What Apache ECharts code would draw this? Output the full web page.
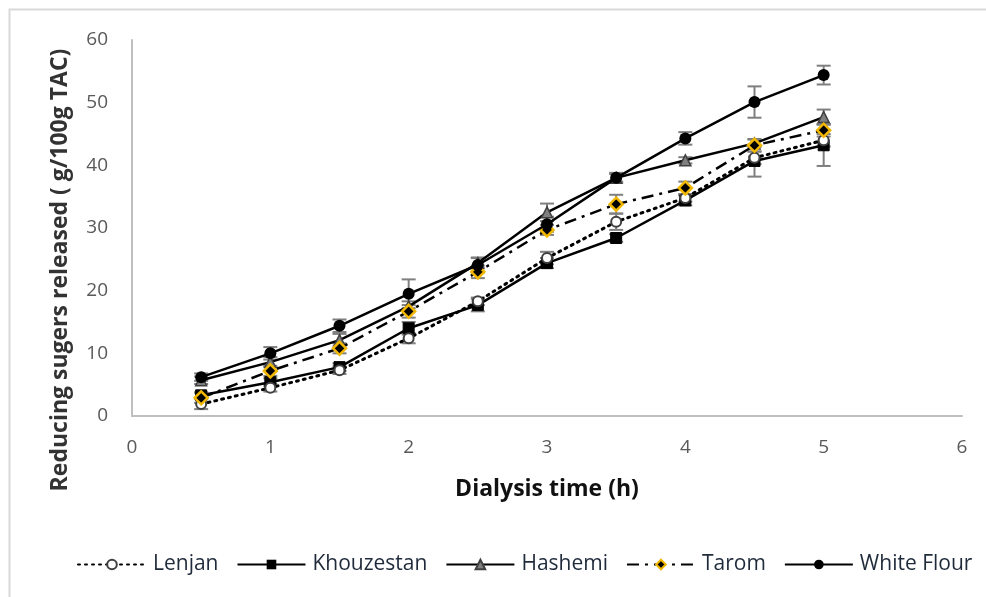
<!DOCTYPE html>
<html>
<head>
<meta charset="utf-8">
<script src="https://cdn.jsdelivr.net/npm/echarts@6/dist/echarts.min.js"></script>
<style>
  html, body { margin: 0; padding: 0; background: #fff; }
  #chart { width: 986px; height: 597px; }
</style>
</head>
<body>
<div id="chart"></div>
<script>
// dialysis time (h)
var times = [0.5, 1, 1.5, 2, 2.5, 3, 3.5, 4, 4.5, 5];

// reducing sugars released (g/100g TAC)
var lenjan     = [1.9, 4.5, 7.3, 12.4, 18.3, 25.2, 31.0, 34.8, 41.2, 44.0];
var khouzestan = [3.3, 5.4, 7.8, 14.0, 17.7, 24.4, 28.4, 34.4, 40.7, 43.2];
var hashemi    = [5.7, 8.6, 12.1, 17.5, 24.4, 32.5, 38.0, 40.8, 43.5, 47.7];
var tarom      = [2.9, 7.2, 10.8, 16.7, 23.0, 29.7, 33.8, 36.4, 43.2, 45.6];
var whiteFlour = [6.2, 10.0, 14.4, 19.5, 24.1, 30.6, 38.0, 44.3, 50.1, 54.4];

// error (±)
var lenjanErr     = [0.8, 0.6, 0.6, 0.8, 0.6, 1.0, 1.3, 0.6, 1.0, 1.0];
var khouzestanErr = [0.5, 0.6, 0.6, 1.0, 1.0, 0.8, 0.6, 0.8, 2.5, 3.3];
var hashemiErr    = [0.6, 0.8, 1.0, 0.8, 0.8, 1.4, 0.6, 0.5, 0.6, 1.2];
var taromErr      = [0.8, 0.8, 0.8, 1.0, 1.0, 0.8, 1.5, 1.0, 1.0, 1.0];
var whiteFlourErr = [0.6, 1.0, 1.0, 2.3, 1.2, 1.2, 0.8, 1.0, 2.5, 1.5];

var font = '"Open Sans", sans-serif';

function pts(vals) {
    return times.map(function (t, i) { return [t, vals[i]]; });
}
function errs(vals, e) {
    return times.map(function (t, i) { return [t, vals[i] - e[i], vals[i] + e[i]]; });
}
function errSeries(name, vals, e) {
    return {
        type: 'custom',
        name: name + ' err',
        z: 1,
        silent: true,
        data: errs(vals, e),
        renderItem: function (params, api) {
            var lo = api.coord([api.value(0), api.value(1)]);
            var hi = api.coord([api.value(0), api.value(2)]);
            var w = 7;
            var st = { stroke: '#7f7f7f', lineWidth: 2 };
            return {
                type: 'group',
                children: [
                    { type: 'line', shape: { x1: lo[0], y1: lo[1], x2: hi[0], y2: hi[1] }, style: st },
                    { type: 'line', shape: { x1: lo[0] - w, y1: lo[1], x2: lo[0] + w, y2: lo[1] }, style: st },
                    { type: 'line', shape: { x1: hi[0] - w, y1: hi[1], x2: hi[0] + w, y2: hi[1] }, style: st }
                ]
            };
        }
    };
}

var chart = echarts.init(document.getElementById('chart'));
chart.setOption({
    animation: false,
    backgroundColor: '#fff',
    graphic: [{
        type: 'rect',
        shape: { x: 9.5, y: 9.5, width: 1000, height: 620 },
        style: { fill: 'none', stroke: '#d9d9d9', lineWidth: 2 },
        silent: true
    }],
    grid: { left: 132, right: 24, top: 40, bottom: 181 },
    legend: {
        top: 549,
        left: 72,
        itemWidth: 68,
        itemHeight: 12,
        itemGap: 18,
        textStyle: { fontFamily: font, fontSize: 21, color: '#1f2a3a', padding: [0, 0, 0, 2] },
        data: ['Lenjan', 'Khouzestan', 'Hashemi', 'Tarom', 'White Flour']
    },
    xAxis: {
        type: 'value',
        min: 0, max: 6, interval: 1,
        name: 'Dialysis time (h)',
        nameLocation: 'middle',
        nameGap: 62,
        nameTextStyle: { fontFamily: font, fontSize: 23, fontWeight: 'bold', color: '#111' },
        axisLine: { show: true, lineStyle: { color: '#bfbfbf', width: 2 } },
        axisTick: { show: false },
        splitLine: { show: false },
        axisLabel: { fontFamily: font, fontSize: 19, color: '#595959', margin: 22 }
    },
    yAxis: {
        type: 'value',
        min: 0, max: 60, interval: 10,
        name: 'Reducing sugers released ( g/100g TAC)',
        nameLocation: 'middle',
        nameGap: 60,
        nameTextStyle: { fontFamily: font, fontSize: 23, fontWeight: 'bold', color: '#333', padding: [0, 84, 0, 0] },
        axisLine: { show: true, lineStyle: { color: '#bfbfbf', width: 2 } },
        axisTick: { show: false },
        splitLine: { show: false },
        axisLabel: { fontFamily: font, fontSize: 19, color: '#595959', margin: 24 }
    },
    series: [
        errSeries('Lenjan', lenjan, lenjanErr),
        errSeries('Khouzestan', khouzestan, khouzestanErr),
        errSeries('Hashemi', hashemi, hashemiErr),
        errSeries('Tarom', tarom, taromErr),
        errSeries('White Flour', whiteFlour, whiteFlourErr),
        {
            name: 'Lenjan', type: 'line', z: 4, data: pts(lenjan),
            symbol: 'emptyCircle', symbolSize: 10,
            lineStyle: { color: '#000', width: 3, type: [2, 5], cap: 'round' },
            itemStyle: { color: '#404040', borderColor: '#404040', borderWidth: 2 }
        },
        {
            name: 'Khouzestan', type: 'line', z: 3, data: pts(khouzestan),
            symbol: 'rect', symbolSize: 11,
            lineStyle: { color: '#000', width: 2.5 },
            itemStyle: { color: '#000', borderColor: '#000' }
        },
        {
            name: 'Hashemi', type: 'line', z: 3, data: pts(hashemi),
            symbol: 'triangle', symbolSize: 11,
            lineStyle: { color: '#000', width: 2.5 },
            itemStyle: { color: '#808080', borderColor: '#404040', borderWidth: 1.5 }
        },
        {
            name: 'Tarom', type: 'line', z: 4, data: pts(tarom),
            symbol: 'diamond', symbolSize: 13,
            lineStyle: { color: '#000', width: 2.5, type: [12, 6, 3, 6] },
            itemStyle: { color: '#000', borderColor: '#f2b700', borderWidth: 2.5 }
        },
        {
            name: 'White Flour', type: 'line', z: 5, data: pts(whiteFlour),
            symbol: 'circle', symbolSize: 12,
            lineStyle: { color: '#000', width: 2.5 },
            itemStyle: { color: '#000' }
        }
    ]
});
</script>
</body>
</html>
